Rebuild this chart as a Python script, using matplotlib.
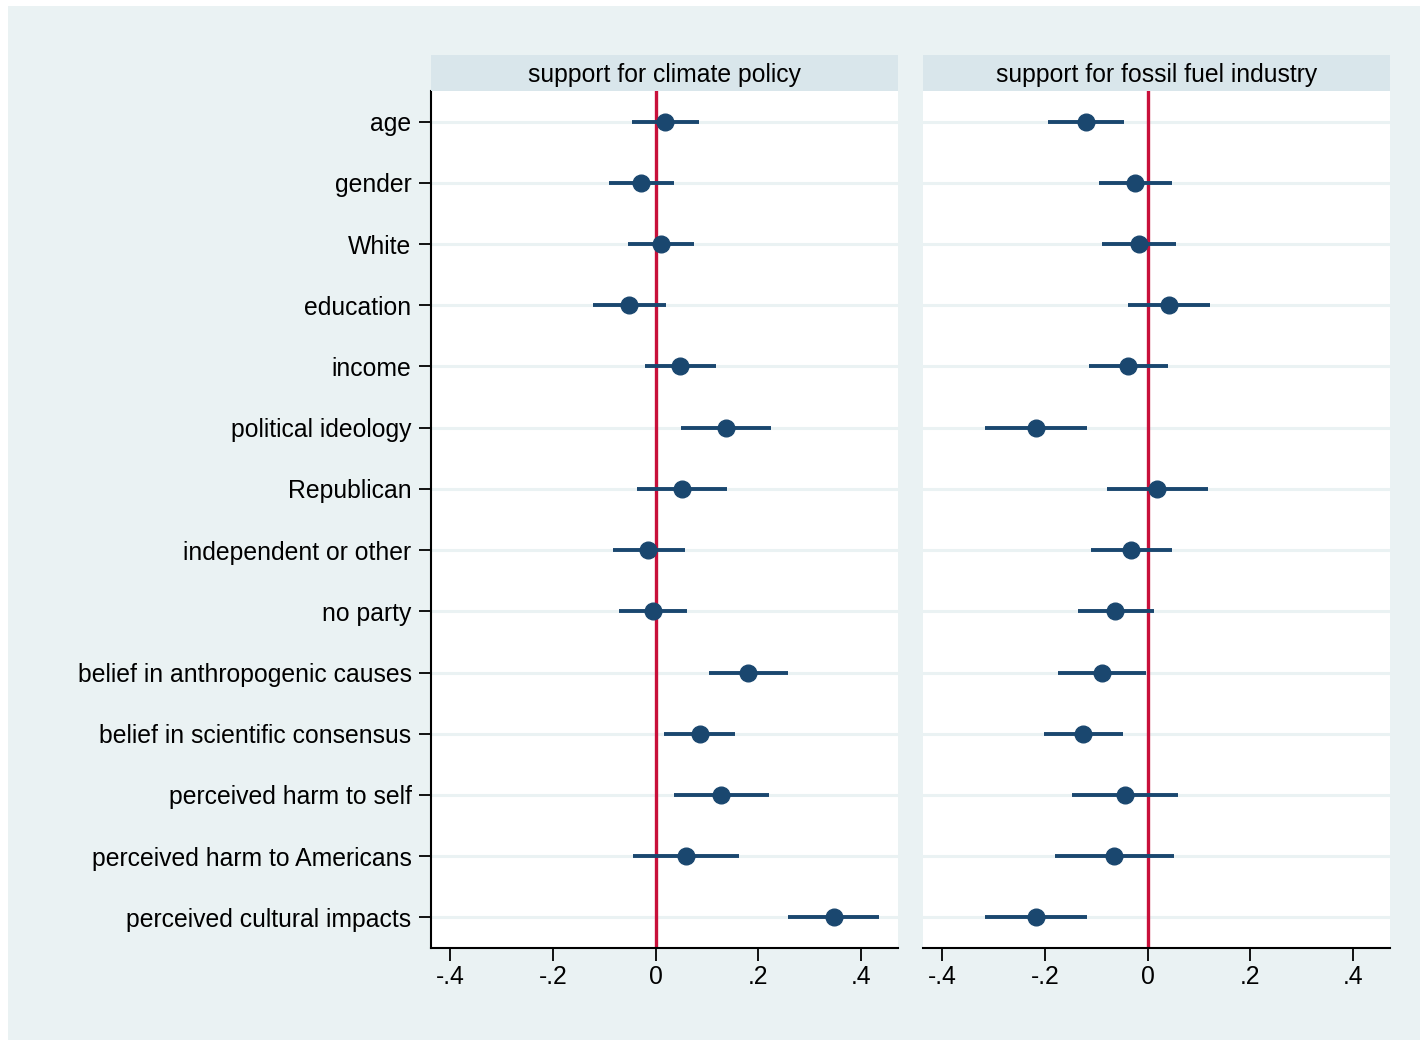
import matplotlib
matplotlib.use("Agg")
import matplotlib.pyplot as plt
from matplotlib.patches import Rectangle

plt.rcParams['font.family'] = ['Liberation Sans', 'DejaVu Sans']

NAVY = "#1A476F"
CRANBERRY = "#C8103A"
BG = "#EAF2F3"
STRIP = "#D9E6EB"
FS = 17.8

variables = ["age", "gender", "White", "education", "income", "political ideology",
             "Republican", "independent or other", "no party",
             "belief in anthropogenic causes", "belief in scientific consensus",
             "perceived harm to self", "perceived harm to Americans",
             "perceived cultural impacts"]

# support for climate policy
policy_est = [0.019, -0.028, 0.010, -0.051, 0.048, 0.137, 0.051, -0.014, -0.005,
              0.180, 0.086, 0.128, 0.059, 0.346]
policy_lo = [-0.046, -0.091, -0.053, -0.121, -0.021, 0.049, -0.036, -0.083, -0.071,
             0.103, 0.017, 0.036, -0.044, 0.258]
policy_hi = [0.085, 0.036, 0.075, 0.020, 0.117, 0.224, 0.138, 0.057, 0.061,
             0.257, 0.154, 0.221, 0.163, 0.434]

# support for fossil fuel industry
fossil_est = [-0.119, -0.024, -0.017, 0.042, -0.038, -0.218, 0.018, -0.032, -0.063,
              -0.089, -0.126, -0.044, -0.065, -0.217]
fossil_lo = [-0.193, -0.095, -0.088, -0.038, -0.115, -0.317, -0.080, -0.111, -0.136,
             -0.174, -0.202, -0.148, -0.181, -0.316]
fossil_hi = [-0.046, 0.048, 0.055, 0.121, 0.040, -0.118, 0.117, 0.048, 0.012,
             -0.003, -0.048, 0.060, 0.051, -0.118]

panels = [("support for climate policy", policy_est, policy_lo, policy_hi),
          ("support for fossil fuel industry", fossil_est, fossil_lo, fossil_hi)]

xticks = [-0.4, -0.2, 0, 0.2, 0.4]
xticklabels = ["-.4", "-.2", "0", ".2", ".4"]

W, H = 1420, 1040
fig = plt.figure(figsize=(W / 100, H / 100), dpi=100, facecolor="white")
fig.patches.append(Rectangle((8 / W, 0), 1 - 8 / W, 1 - 6 / H, transform=fig.transFigure,
                             facecolor=BG, edgecolor="none", zorder=-10))

lefts = [431, 923]
pw = 467.3
top, bottom = 91, 948
rows = list(range(1, len(variables) + 1))

for i, (title, est, lo, hi) in enumerate(panels):
    ax = fig.add_axes([lefts[i] / W, (H - bottom) / H, pw / W, (bottom - top) / H])
    ax.set_facecolor("white")
    for r in rows:
        ax.axhline(r, color=BG, lw=2.2, zorder=1)
    ax.axvline(0, color=CRANBERRY, lw=2.4, zorder=2)
    ax.hlines(rows, lo, hi, color=NAVY, lw=2.8, zorder=3)
    ax.plot(est, rows, "o", color=NAVY, markersize=12, zorder=4)
    ax.set_xlim(-0.437, 0.472)
    ax.set_ylim(14.5, 0.5)
    ax.set_xticks(xticks)
    ax.set_xticklabels(xticklabels, fontsize=FS)
    ax.tick_params(axis="x", length=9, width=1.3, pad=3)
    for s in ["top", "right"]:
        ax.spines[s].set_visible(False)
    ax.spines["bottom"].set_linewidth(1.5)
    if i == 0:
        ax.set_yticks(rows)
        ax.set_yticklabels(variables, fontsize=FS)
        ax.tick_params(axis="y", length=9, width=1.3, pad=5)
        ax.spines["left"].set_linewidth(1.5)
    else:
        ax.set_yticks([])
        ax.spines["left"].set_visible(False)

    sax = fig.add_axes([lefts[i] / W, (H - top) / H, pw / W, 36 / H])
    sax.set_facecolor(STRIP)
    sax.set_xticks([])
    sax.set_yticks([])
    for s in sax.spines.values():
        s.set_visible(False)
    sax.text(0.5, 0.44, title, ha="center", va="center", fontsize=FS,
             transform=sax.transAxes)

fig.savefig("out.png", dpi=100, facecolor="white")
